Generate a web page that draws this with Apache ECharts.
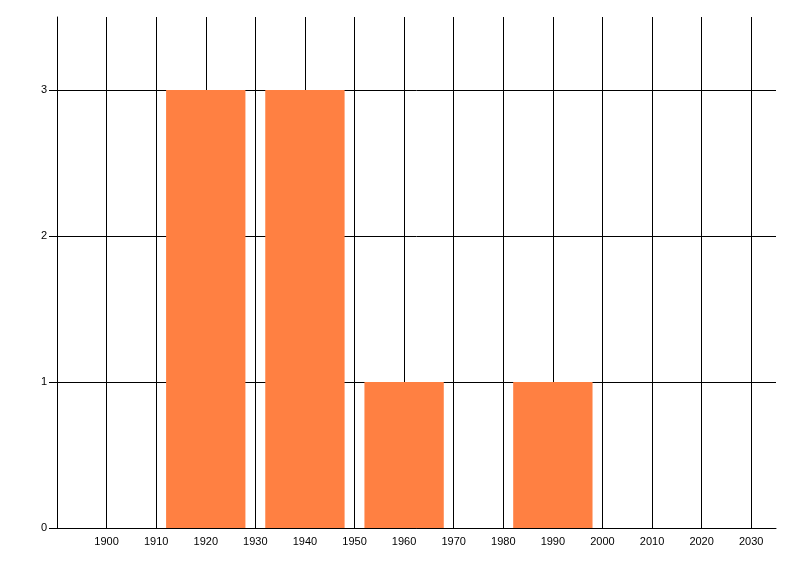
<!DOCTYPE html>
<html>
<head>
<meta charset="utf-8">
<script src="https://cdn.jsdelivr.net/npm/echarts@6/dist/echarts.min.js"></script>
<style>
  html, body { margin: 0; padding: 0; background: #fff; }
  #main { width: 800px; height: 576px; }
</style>
</head>
<body>
<div id="main"></div>
<script>
// histogram bins (centre year) and counts
var binCenters = [1920, 1940, 1960, 1990];
var binCounts = [3, 3, 1, 1];
var binWidth = 16;

var xTicks = [1900, 1910, 1920, 1930, 1940, 1950, 1960, 1970, 1980, 1990, 2000, 2010, 2020, 2030];
var yTicks = [0, 1, 2, 3];

var myChart = echarts.init(document.getElementById('main'));

var data = binCenters.map(function(c, i) {
    return [c, binCounts[i]];
});

// last split line sits on the outer edge, hide it
var xLineColors = [];
for (var i = 0; i <= xTicks.length; i++) {
    xLineColors.push('#000');
}
xLineColors.push('rgba(0,0,0,0)');
var yLineColors = yTicks.map(function() { return '#000'; });
yLineColors.push('rgba(0,0,0,0)');

var option = {
    animation: false,
    grid: { left: 57, right: 24, top: 17, bottom: 48 },
    xAxis: {
        type: 'value',
        min: 1890,
        max: 2035,
        interval: 10,
        axisLine: { lineStyle: { color: '#000', width: 1 } },
        axisTick: { show: false },
        axisLabel: {
            color: '#000',
            fontFamily: 'Liberation Sans',
            fontSize: 11,
            margin: 8,
            showMinLabel: false,
            showMaxLabel: false,
            formatter: function(v) {
                return xTicks.indexOf(v) >= 0 ? String(v) : '';
            }
        },
        splitLine: { show: true, lineStyle: { color: xLineColors, width: 1 } }
    },
    yAxis: {
        type: 'value',
        min: 0,
        max: 3.5,
        interval: 1,
        axisLine: { show: true, lineStyle: { color: '#000', width: 1 } },
        axisTick: { show: true, length: 8, lineStyle: { color: '#000' } },
        axisLabel: {
            color: '#000',
            fontFamily: 'Liberation Sans',
            fontSize: 11,
            margin: 10,
            showMaxLabel: false,
            formatter: function(v) {
                return yTicks.indexOf(v) >= 0 ? String(v) : '';
            }
        },
        splitLine: { show: true, lineStyle: { color: yLineColors, width: 1 } }
    },
    series: [{
        type: 'custom',
        data: data,
        renderItem: function(params, api) {
            var c = api.value(0);
            var v = api.value(1);
            var p0 = api.coord([c - binWidth / 2, v]);
            var p1 = api.coord([c + binWidth / 2, 0]);
            return {
                type: 'rect',
                shape: { x: p0[0], y: p0[1], width: p1[0] - p0[0], height: p1[1] - p0[1] },
                style: { fill: '#FF8042' }
            };
        }
    }]
};

myChart.setOption(option);
</script>
</body>
</html>
